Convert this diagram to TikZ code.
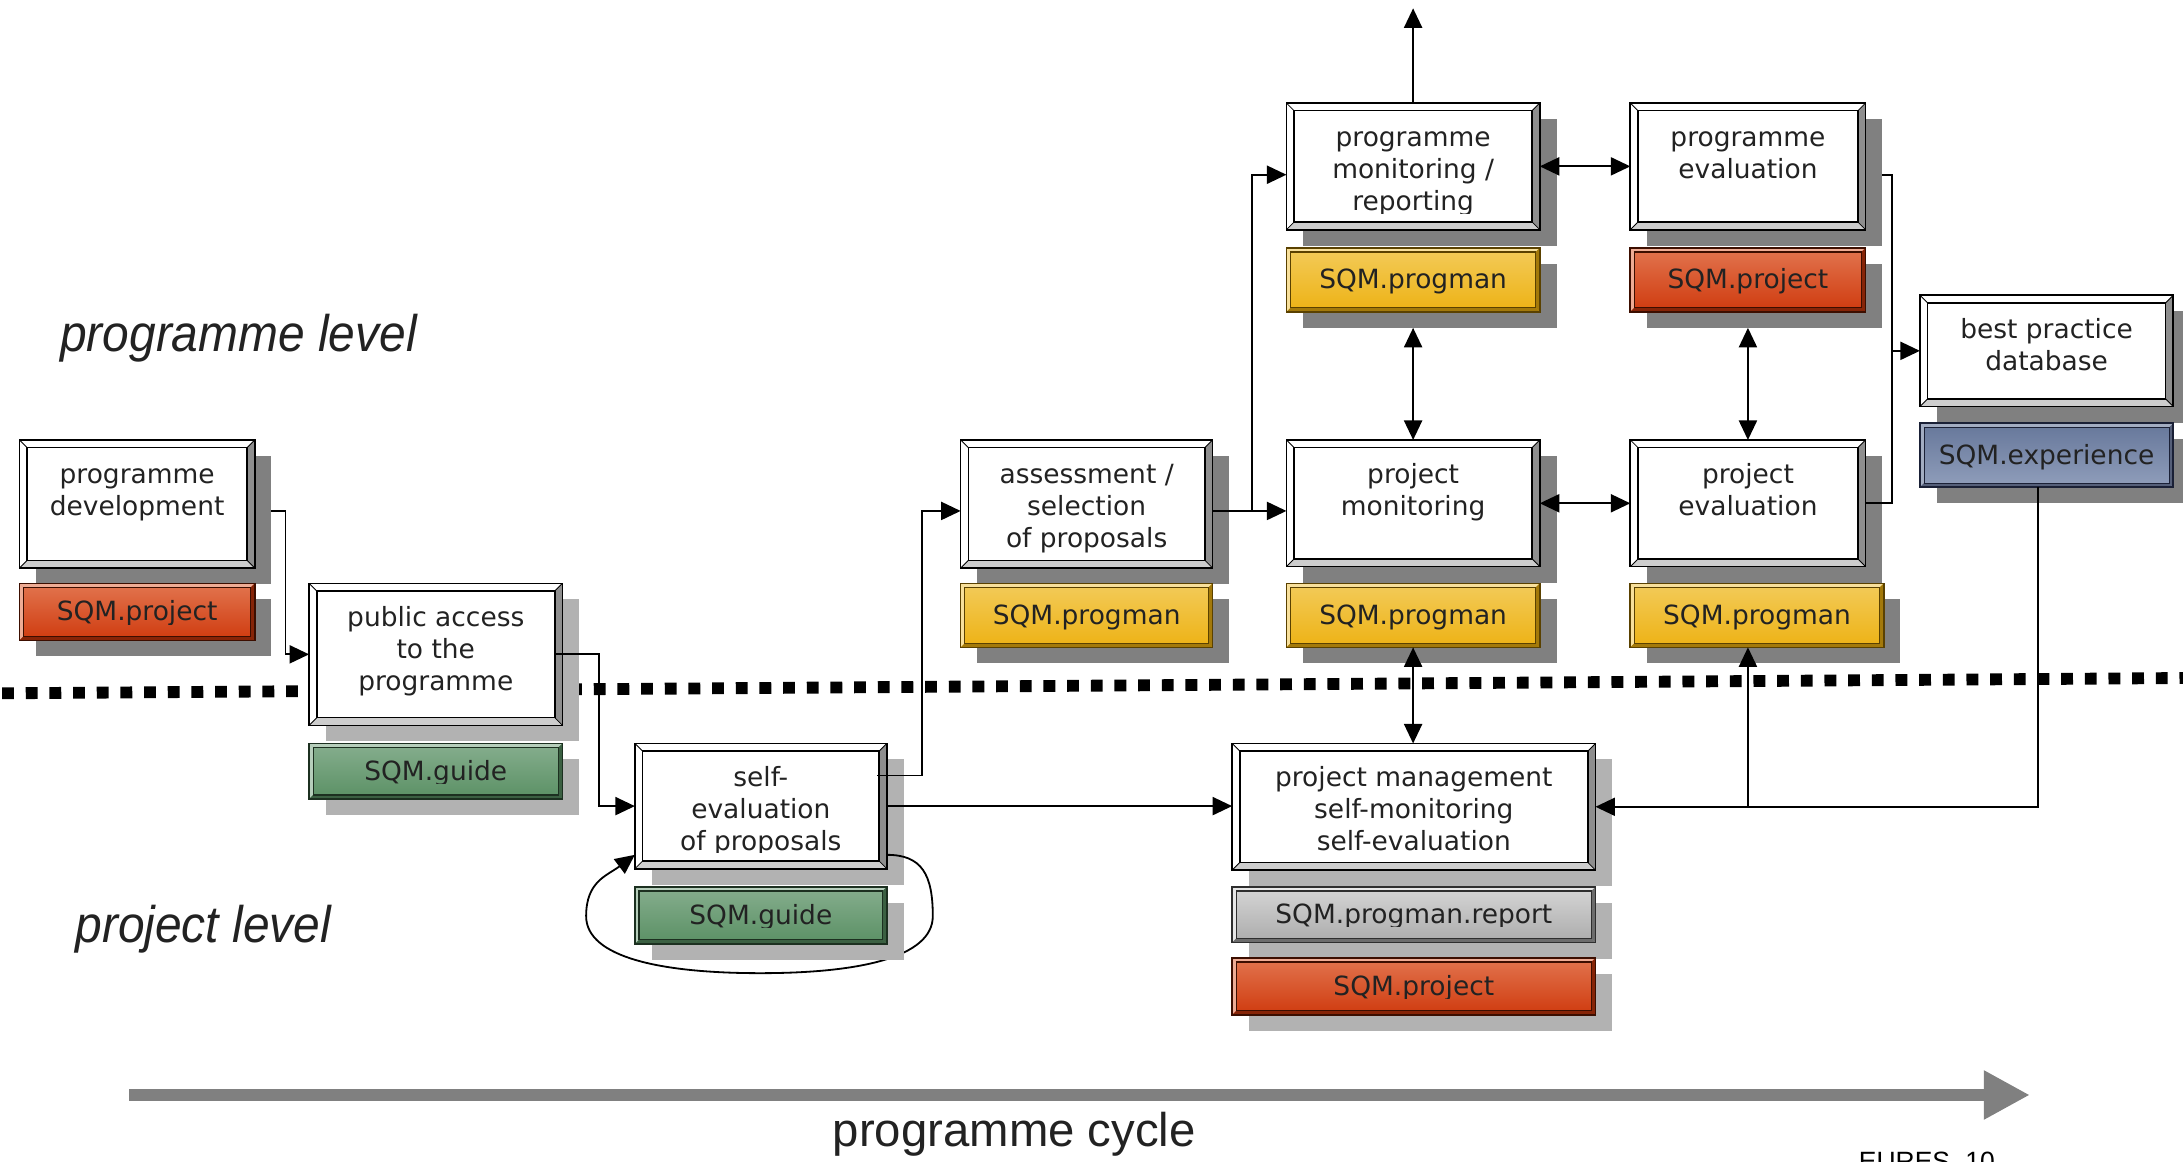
\documentclass[tikz,border=0pt]{standalone}
\usepackage{fontspec}
\setmainfont{DejaVu Sans}
\newfontfamily\lblfont[FakeStretch=0.93]{Liberation Sans}
\newfontfamily\cycfont{Liberation Sans}
\usetikzlibrary{arrows.meta,calc}
\definecolor{txtc}{HTML}{222222}
\definecolor{shdark}{HTML}{808080}
\definecolor{shlight}{HTML}{B2B2B2}
\definecolor{bevR}{HTML}{8E8E8E}
\definecolor{bevB}{HTML}{CDCDCD}
\definecolor{redT}{HTML}{E2754F}
\definecolor{redB}{HTML}{CF3A0E}
\definecolor{redD}{HTML}{3C0E00}
\definecolor{yelT}{HTML}{F3CB5A}
\definecolor{yelB}{HTML}{EDB214}
\definecolor{yelD}{HTML}{5A4100}
\definecolor{grnT}{HTML}{86AE8E}
\definecolor{grnB}{HTML}{5A9064}
\definecolor{grnD}{HTML}{1C3020}
\definecolor{gryT}{HTML}{ABABAB}
\definecolor{gryB}{HTML}{D6D6D6}
\definecolor{gryD}{HTML}{2E2E2E}
\definecolor{bluT}{HTML}{66779A}
\definecolor{bluB}{HTML}{909EBB}
\definecolor{bluD}{HTML}{1A2036}
\definecolor{arrg}{HTML}{808080}
\pgfdeclarelayer{bg}
\pgfdeclarelayer{shd}
\pgfsetlayers{bg,shd,main}
\newcommand\ppbb{path picture bounding box}
\tikzset{
  wbox/.style={draw=black, line width=1.2pt, fill=white, inner sep=0pt, outer sep=0pt,
    path picture={
      \fill[bevR] (\ppbb.north east) -- (\ppbb.south east) -- ([shift={(-5.5pt,5.5pt)}]\ppbb.south east) -- ([shift={(-5.5pt,-5.5pt)}]\ppbb.north east) -- cycle;
      \fill[bevB] (\ppbb.south west) -- (\ppbb.south east) -- ([shift={(-5.5pt,5.5pt)}]\ppbb.south east) -- ([shift={(5.5pt,5.5pt)}]\ppbb.south west) -- cycle;
      \draw[line width=0.6pt] (\ppbb.north west) -- ([shift={(5.5pt,-5.5pt)}]\ppbb.north west)
        (\ppbb.north east) -- ([shift={(-5.5pt,-5.5pt)}]\ppbb.north east)
        (\ppbb.south east) -- ([shift={(-5.5pt,5.5pt)}]\ppbb.south east)
        (\ppbb.south west) -- ([shift={(5.5pt,5.5pt)}]\ppbb.south west);
      \draw[line width=1.1pt] ([shift={(5.5pt,-5.5pt)}]\ppbb.north west) rectangle ([shift={(-5.5pt,5.5pt)}]\ppbb.south east);
    }},
  qbox/.style n args={3}{top color=#1, bottom color=#2, draw=#3, line width=1.2pt, inner sep=0pt, outer sep=0pt,
    path picture={
      \fill[#1!60!white] (\ppbb.north west) -- (\ppbb.north east) -- ([shift={(-3pt,-3pt)}]\ppbb.north east) -- ([shift={(3pt,-3pt)}]\ppbb.north west) -- cycle;
      \fill[#1!60!white] (\ppbb.north west) -- (\ppbb.south west) -- ([shift={(3pt,3pt)}]\ppbb.south west) -- ([shift={(3pt,-3pt)}]\ppbb.north west) -- cycle;
      \fill[#3!50!#2] (\ppbb.north east) -- (\ppbb.south east) -- ([shift={(-3pt,3pt)}]\ppbb.south east) -- ([shift={(-3pt,-3pt)}]\ppbb.north east) -- cycle;
      \fill[#3!50!#2] (\ppbb.south west) -- (\ppbb.south east) -- ([shift={(-3pt,3pt)}]\ppbb.south east) -- ([shift={(3pt,3pt)}]\ppbb.south west) -- cycle;
      \draw[#3, line width=0.8pt] ([shift={(3pt,-3pt)}]\ppbb.north west) rectangle ([shift={(-3pt,3pt)}]\ppbb.south east);
    }},
  red/.style={qbox={redT}{redB}{redD}},
  yel/.style={qbox={yelT}{yelB}{yelD}},
  grn/.style={qbox={grnT}{grnB}{grnD}},
  gry/.style={qbox={gryB}{gryT}{gryD}},
  blu/.style={qbox={bluT}{bluB}{bluD}},
  txt/.style={font=\fontsize{19}{23}\selectfont, text=txtc, align=center, inner sep=0pt, outer sep=0pt},
  conn/.style={draw=black, line width=1.3pt},
  arr/.style={-{Triangle[length=14pt,width=13pt]}},
  darr/.style={{Triangle[length=14pt,width=13pt]}-{Triangle[length=14pt,width=13pt]}},
  lvl/.style={anchor=base west, inner sep=0pt, text=txtc, font=\lblfont\itshape\fontsize{37}{40}\selectfont}
}
\newcommand\wtext[2]{%
  \begin{scope}
    \clip ([shift={(5pt,-5pt)}]#1.north west) rectangle ([shift={(-5pt,11.5pt)}]#1.south east);
    \node[txt, anchor=north] (#1t) at ([yshift=-15pt]#1.north) {\strut #2};
  \end{scope}}
\newcommand\qtext[2]{%
  \begin{scope}
    \clip ([shift={(3pt,-3pt)}]#1.north west) rectangle ([shift={(-3pt,11.5pt)}]#1.south east);
    \node[txt, anchor=base] (#1t) at ([yshift=-6.5pt]#1.center) {#2};
  \end{scope}}
\begin{document}
\begin{tikzpicture}[x=1pt,y=-1pt]
\useasboundingbox (0,0) rectangle (1568,834);
% boxes
\node[wbox, minimum width=169pt, minimum height=92pt] (pd) at (98.5,362) {};
\node[red, minimum width=169pt, minimum height=41pt] (pdq) at (98.5,439.5) {};
\node[wbox, minimum width=182pt, minimum height=102pt] (pa) at (313,470) {};
\node[grn, minimum width=182pt, minimum height=40pt] (paq) at (313,554) {};
\node[wbox, minimum width=181pt, minimum height=90pt] (se) at (546.5,579) {};
\node[grn, minimum width=181pt, minimum height=41pt] (seq) at (546.5,657.5) {};
\node[wbox, minimum width=181pt, minimum height=92pt] (as) at (780.5,362) {};
\node[yel, minimum width=181pt, minimum height=46pt] (asq) at (780.5,442) {};
\node[wbox, minimum width=182pt, minimum height=91pt] (pm) at (1015,119.5) {};
\node[yel, minimum width=182pt, minimum height=46pt] (pmq) at (1015,201) {};
\node[wbox, minimum width=169pt, minimum height=91pt] (pe) at (1255.5,119.5) {};
\node[red, minimum width=169pt, minimum height=46pt] (peq) at (1255.5,201) {};
\node[wbox, minimum width=182pt, minimum height=91pt] (jm) at (1015,361.5) {};
\node[yel, minimum width=182pt, minimum height=46pt] (jmq) at (1015,442) {};
\node[wbox, minimum width=169pt, minimum height=91pt] (je) at (1255.5,361.5) {};
\node[yel, minimum width=182pt, minimum height=46pt] (jeq) at (1262,442) {};
\node[wbox, minimum width=182pt, minimum height=80pt] (bp) at (1470,252) {};
\node[blu, minimum width=182pt, minimum height=46pt] (bpq) at (1470,327) {};
\node[wbox, minimum width=261pt, minimum height=91pt] (pg) at (1015.5,579.5) {};
\node[gry, minimum width=261pt, minimum height=40pt] (pgq1) at (1015.5,657) {};
\node[red, minimum width=261pt, minimum height=41pt] (pgq2) at (1015.5,708.5) {};
% texts
\wtext{pd}{programme\\development}
\wtext{pa}{public access\\to the\\programme}
\wtext{se}{self-\\evaluation\\of proposals}
\wtext{as}{assessment /\\selection\\of proposals}
\wtext{pm}{programme\\monitoring /\\reporting}
\wtext{pe}{programme\\evaluation}
\wtext{jm}{project\\monitoring}
\wtext{je}{project\\evaluation}
\wtext{bp}{best practice\\database}
\wtext{pg}{project management\\self-monitoring\\self-evaluation}
\qtext{pdq}{SQM.project}
\qtext{paq}{SQM.guide}
\qtext{seq}{SQM.guide}
\qtext{asq}{SQM.progman}
\qtext{pmq}{SQM.progman}
\qtext{peq}{SQM.project}
\qtext{jmq}{SQM.progman}
\qtext{jeq}{SQM.progman}
\qtext{bpq}{SQM.experience}
\qtext{pgq1}{SQM.progman.report}
\qtext{pgq2}{SQM.project}
% background: dotted level line
\coordinate (dl) at (0,498);
\coordinate (dr) at (1568,487);
\begin{pgfonlayer}{bg}
  \draw[line width=8.5pt, dash pattern=on 8.5pt off 8.5pt, dash phase=-1.5pt] (dl) -- (dr);
\end{pgfonlayer}
% shadows and self loop
\begin{pgfonlayer}{shd}
  \foreach \n in {pd,pdq,as,asq,pm,pmq,pe,peq,jm,jmq,je,jeq,bp,bpq}
    \fill[shdark] ([shift={(12pt,-11.5pt)}]\n.north west) rectangle ([shift={(12pt,-11.5pt)}]\n.south east);
  \foreach \n in {pa,paq,se,pg,pgq1,pgq2}
    \fill[shlight] ([shift={(12pt,-11.5pt)}]\n.north west) rectangle ([shift={(12pt,-11.5pt)}]\n.south east);
  \draw[conn,arr] ([yshift=10pt]se.south east) .. controls +(25,0) and +(0,-30) .. (670,658)
     .. controls +(0,30) and +(70,0) .. (546,699)
     .. controls +(-70,0) and +(0,30) .. (421,658)
     .. controls +(0,-25) and +(-20,15) .. ([yshift=10pt]se.south west);
  \fill[shlight] ([shift={(12pt,-11.5pt)}]seq.north west) rectangle ([shift={(12pt,-11.5pt)}]seq.south east);
\end{pgfonlayer}
% connectors
\draw[conn,arr] ([shift={(12pt,-5pt)}]pd.east) -- ++(10,0) |- (pa.west);
\draw[conn,arr] ([xshift=-6pt]pa.east) -- ++(32,0) |- (se.west);
\draw[conn,arr] ([shift={(-7pt,22pt)}]se.east) -- ++(32,0) |- ([yshift=-5pt]as.west);
\draw[conn,arr] (se.east) -- (se.east -| pg.west);
\draw[conn,arr] ([yshift=-5pt]as.east) -- ([yshift=-5pt]as.east -| jm.west);
\draw[conn,arr] ([shift={(28pt,-5pt)}]as.east) |- ([yshift=-6pt]pm.west);
\draw[conn,darr] (pm.east) -- (pe.west);
\draw[conn,darr] (jm.east) -- (je.west);
\draw[conn,darr] ([yshift=-11.5pt]pmq.south) -- (jm.north);
\draw[conn,darr] ([yshift=-11.5pt]peq.south) -- (je.north);
\draw[conn,arr] (pm.north) -- ++(0,-68);
\draw[conn,darr] (jmq.south) -- (jmq.south |- pg.north);
\draw[conn,arr] ([xshift=-6pt]bpq.south) |- (pg.east);
\draw[conn,arr] (je.south |- pg.east) -- (je.south |- jeq.south);
\draw[conn,arr] ([shift={(12pt,-6pt)}]pe.east) -| ([xshift=-20pt]bp.west) -- (bp.west);
\draw[conn] (je.east) -| ([xshift=-20pt]bp.west);
% programme cycle arrow
\coordinate (cs) at (93,786.5);
\coordinate (ce) at (1458,786.5);
\draw[line width=8.2pt, arrg, -{Triangle[length=33pt,width=33pt]}] (cs) -- (ce);
% labels
\node[lvl] (lvl1) at (43,252.6) {programme level};
\node[lvl] (lvl2) at (54,677) {project level};
\node[anchor=base west, inner sep=0pt, text=txtc, font=\cycfont\fontsize{34}{38}\selectfont] (cyc) at (598,823.6) {programme cycle};
\node[anchor=base west, inner sep=0pt, text=black, font=\cycfont\fontsize{19}{22}\selectfont] (eures) at (1335,841) {EURES\hspace{11pt}10};
\end{tikzpicture}
\end{document}
